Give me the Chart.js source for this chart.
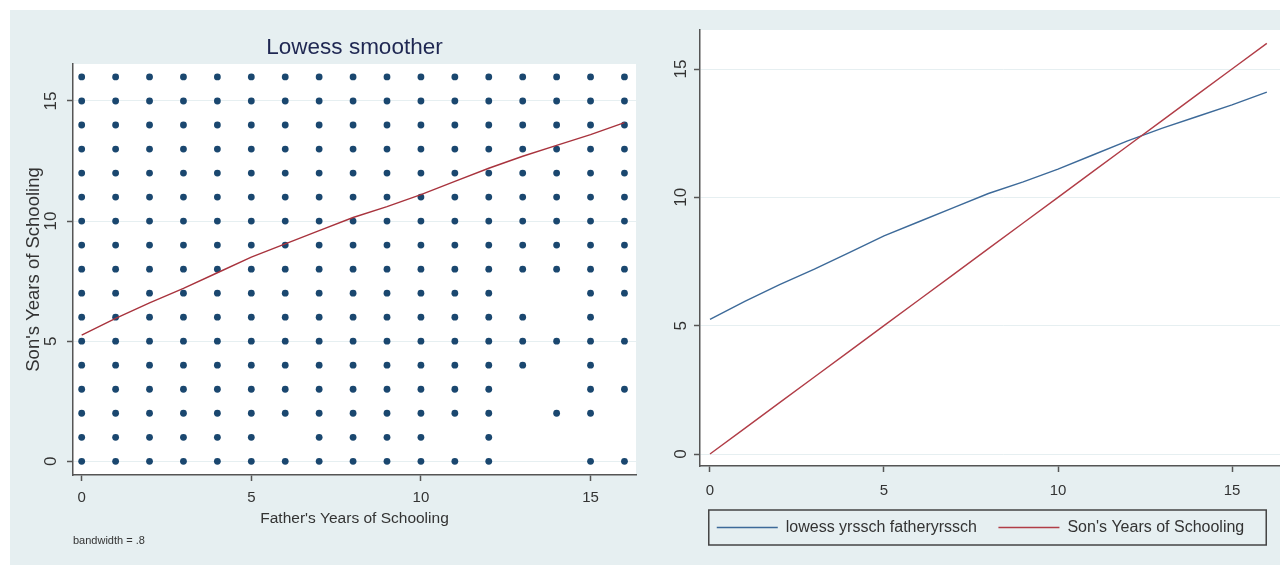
<!DOCTYPE html>
<html><head><meta charset="utf-8">
<script src="https://cdn.jsdelivr.net/npm/chart.js@4/dist/chart.umd.min.js"></script>
<style>
html,body{margin:0;padding:0;background:#fff;width:1280px;height:565px;overflow:hidden;position:relative;}
#panel{position:absolute;left:10px;top:10px;width:1270px;height:555px;background:#e6eff1;}
#c1{position:absolute;left:0;top:0;}
#c2{position:absolute;left:655px;top:0;}
</style></head><body>
<div id="panel"></div>
<canvas id="c1" width="655" height="565"></canvas>
<canvas id="c2" width="651" height="565"></canvas>
<script>
// ---- data ----
const fatherYears = [0,1,2,3,4,5,6,7,8,9,10,11,12,13,14,15,16];
const sonYears    = [0,1,2,3,4,5,6,7,8,9,10,11,12,13,14,15,16];
const tickValues  = [0,5,10,15];
const lowessFit   = [5.25,5.95,6.6,7.2,7.85,8.5,9.05,9.6,10.15,10.6,11.1,11.65,12.2,12.7,13.15,13.6,14.1];
const sonYearsLine = [0,1,2,3,4,5,6,7,8,9,10,11,12,13,14,15,16];
// father's years observed, for each value of son's years (rows 0..16)
const observedFather = [
  [0,1,2,3,4,5,6,7,8,9,10,11,12,15,16],
  [0,1,2,3,4,5,7,8,9,10,12],
  [0,1,2,3,4,5,6,7,8,9,10,11,12,14,15],
  [0,1,2,3,4,5,6,7,8,9,10,11,12,15,16],
  [0,1,2,3,4,5,6,7,8,9,10,11,12,13,15],
  [0,1,2,3,4,5,6,7,8,9,10,11,12,13,14,15,16],
  [0,1,2,3,4,5,6,7,8,9,10,11,12,13,15],
  [0,1,2,3,4,5,6,7,8,9,10,11,12,15,16],
  [0,1,2,3,4,5,6,7,8,9,10,11,12,13,14,15,16],
  [0,1,2,3,4,5,6,7,8,9,10,11,12,13,14,15,16],
  [0,1,2,3,4,5,6,7,8,9,10,11,12,13,14,15,16],
  [0,1,2,3,4,5,6,7,8,9,10,11,12,13,14,15,16],
  [0,1,2,3,4,5,6,7,8,9,10,11,12,13,14,15,16],
  [0,1,2,3,4,5,6,7,8,9,10,11,12,13,14,15,16],
  [0,1,2,3,4,5,6,7,8,9,10,11,12,13,14,15,16],
  [0,1,2,3,4,5,6,7,8,9,10,11,12,13,14,15,16],
  [0,1,2,3,4,5,6,7,8,9,10,11,12,13,14,15,16]
];
const titleText = 'Lowess smoother';
const xTitle = "Father's Years of Schooling";
const yTitle = "Son's Years of Schooling";
const noteText = 'bandwidth = .8';
const seriesNames = ['lowess yrssch fatheryrssch', "Son's Years of Schooling"];

// ---- build ----
const scatterPts = [];
sonYears.forEach((s, i) => observedFather[i].forEach(f => scatterPts.push({x: f, y: s})));
const lowessPts = fatherYears.map((x, i) => ({x, y: lowessFit[i]}));
const sonPts = fatherYears.map((x, i) => ({x, y: sonYearsLine[i]}));

const FONT = "'Liberation Sans',Arial,sans-serif";
const AXIS = '#555';
const TXT = '#333';
const GRID = '#e6eff1';

const plotBg = {id:'plotBg', beforeDraw(chart){
  const {ctx, chartArea:a} = chart;
  ctx.save(); ctx.fillStyle = '#fff';
  ctx.fillRect(a.left, a.top, a.right - a.left, a.bottom - a.top);
  ctx.restore();
}};
const legendFrame = {id:'legendFrame', afterDraw(chart){
  const lg = chart.legend; if (!lg || !lg.legendHitBoxes || !lg.legendHitBoxes.length) return;
  const hb = lg.legendHitBoxes, f = hb[0], l = hb[hb.length-1];
  const x0 = f.left - 8, x1 = l.left + l.width + 22, y0 = f.top - 9.5, y1 = f.top + f.height + 9.5;
  const ctx = chart.ctx; ctx.save(); ctx.strokeStyle = '#444'; ctx.lineWidth = 1.5;
  ctx.strokeRect(x0, y0, x1 - x0, y1 - y0); ctx.restore();
}};
const setTicks = s => { s.ticks = tickValues.map(v => ({value: v})); };

new Chart(document.getElementById('c1'), {
  type: 'scatter',
  data: {datasets: [
    {type:'line', label:'lowess', data: lowessPts, borderColor:'#a8333d', borderWidth:1.4, pointRadius:0, fill:false, tension:0},
    {type:'scatter', label:'obs', data: scatterPts, pointRadius:3.4, pointStyle:'circle', backgroundColor:'#1a476f', borderWidth:0}
  ]},
  options: {
    responsive:false, animation:false, events:[],
    layout:{padding:{left:0, right:19, top:0, bottom:17.4}},
    plugins:{
      legend:{display:false}, tooltip:{enabled:false},
      title:{display:true, text:titleText, fullSize:false, color:'#1f2752', font:{family:FONT, size:22.5, weight:'normal'}, padding:{top:34, bottom:3}},
      subtitle:{display:true, text:noteText, position:'bottom', align:'start', fullSize:false, color:TXT, font:{family:FONT, size:11}, padding:{top:4.4, bottom:0}}
    },
    scales:{
      x:{type:'linear', min:-0.256, max:16.34, afterBuildTicks:setTicks, afterFit:s=>{s.height=55;},
        grid:{drawOnChartArea:false, tickLength:6, tickColor:AXIS, tickWidth:1.5},
        border:{color:AXIS, width:1.5},
        ticks:{padding:7.5, color:TXT, font:{family:FONT, size:15}},
        title:{display:true, text:xTitle, color:TXT, font:{family:FONT, size:15.5}, padding:{top:0, bottom:1.7}}},
      y:{type:'linear', min:-0.57, max:16.54, afterBuildTicks:setTicks, afterFit:s=>{s.width=73;},
        grid:{color:GRID, tickLength:6, tickColor:AXIS, tickWidth:1.5},
        border:{color:AXIS, width:1.5},
        ticks:{padding:6, minRotation:90, maxRotation:90, crossAlign:'center', color:TXT, font:{family:FONT, size:17}},
        title:{display:true, text:yTitle, color:TXT, font:{family:FONT, size:18.5}, padding:{top:23, bottom:0}}}
    }
  },
  plugins:[plotBg]
});

new Chart(document.getElementById('c2'), {
  type: 'line',
  data: {datasets: [
    {label:seriesNames[0], data: lowessPts, borderColor:'#3d6a99', backgroundColor:'#3d6a99', borderWidth:1.4, pointRadius:0, fill:false, tension:0, order:2},
    {label:seriesNames[1], data: sonPts, borderColor:'#b13d47', backgroundColor:'#b13d47', borderWidth:1.4, pointRadius:0, fill:false, tension:0, order:1}
  ]},
  options: {
    responsive:false, animation:false, events:[],
    layout:{padding:{left:0, right:0, top:30, bottom:19.5}},
    plugins:{
      tooltip:{enabled:false},
      legend:{position:'bottom',
        labels:{usePointStyle:true, pointStyle:'line', pointStyleWidth:61, padding:21.5, color:TXT,
          font:{family:FONT, size:16}, sort:(a,b)=>a.datasetIndex-b.datasetIndex}}
    },
    scales:{
      x:{type:'linear', min:-0.287, max:17.126, afterBuildTicks:setTicks, afterFit:s=>{s.height=32;},
        grid:{drawOnChartArea:false, tickLength:6, tickColor:AXIS, tickWidth:1.5},
        border:{color:AXIS, width:1.5},
        ticks:{padding:10, color:TXT, font:{family:FONT, size:15}}},
      y:{type:'linear', min:-0.467, max:16.52, afterBuildTicks:setTicks, afterFit:s=>{s.width=45;},
        grid:{color:GRID, tickLength:6, tickColor:AXIS, tickWidth:1.5},
        border:{color:AXIS, width:1.5},
        ticks:{padding:3, minRotation:90, maxRotation:90, crossAlign:'center', color:TXT, font:{family:FONT, size:17}}}
    }
  },
  plugins:[plotBg, legendFrame]
});
</script>
</body></html>
